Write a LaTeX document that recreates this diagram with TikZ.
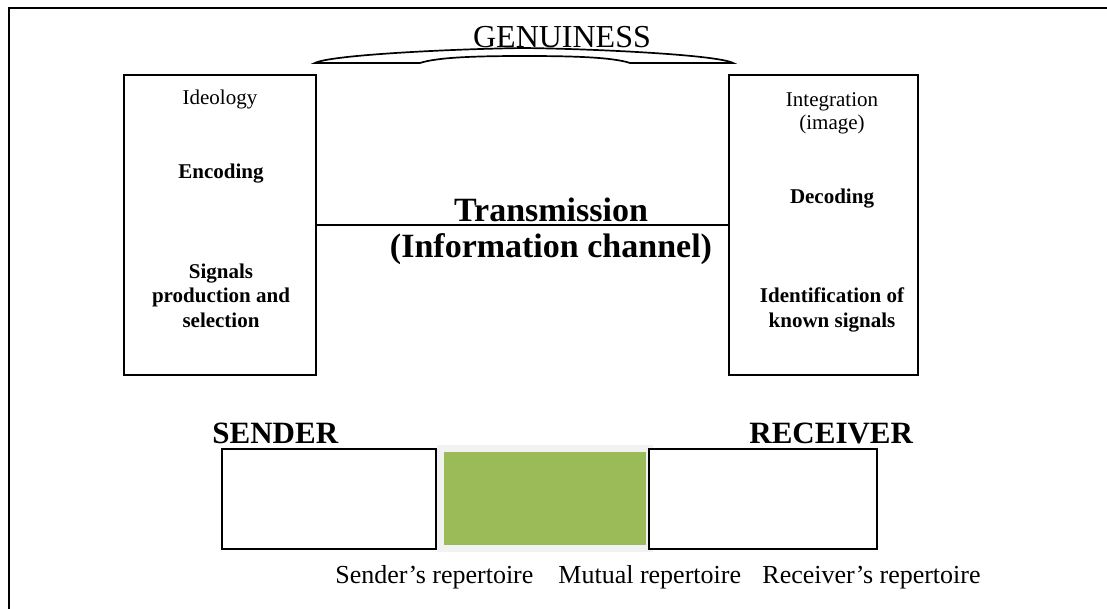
\documentclass[tikz,border=0pt]{standalone}
\usepackage{fontspec}
\setmainfont{Liberation Serif}
\usetikzlibrary{positioning}
\definecolor{mutualCol}{HTML}{9BBB59}
\definecolor{haloCol}{HTML}{F2F2F2}

\begin{document}
\begin{tikzpicture}[
    x=0.5pt, y=-0.5pt,
    % Node styles
    stagebox/.style={
        rectangle,
        draw=black,
        line width=0.75pt,
        minimum height=150pt,
        inner sep=0pt
    },
    repbox/.style={
        rectangle,
        draw=black,
        fill=white,
        line width=0.75pt,
        minimum height=50pt,
        inner sep=0pt
    },
    plain/.style={
        anchor=base,
        inner sep=0pt,
        align=center,
        font=\fontsize{10.5}{12.25}\selectfont
    },
    strong/.style={
        plain,
        font=\fontsize{10.5}{12.25}\selectfont\bfseries
    },
    title/.style={
        anchor=base,
        inner sep=0pt,
        font=\fontsize{15.5}{18}\selectfont\bfseries
    },
    caption/.style={
        anchor=base west,
        inner sep=0pt,
        font=\fontsize{13}{15}\selectfont
    }
]
    \useasboundingbox (0,0) rectangle (1107,609);

    % ==== FRAME ====
    \draw[line width=1pt] (9,609) -- (9,8) -- (1107,8);

    % ==== GENUINESS ====
    \draw[line width=0.85pt, fill=white]
        (315,63) .. controls (330,55) and (450,49) .. (524,48)
        .. controls (600,49) and (718,55) .. (733,63)
        -- (630,63) .. controls (612,57) and (570,56) .. (524,56)
        .. controls (480,56) and (438,57) .. (420,63) -- cycle;
    \node[anchor=base, inner sep=0pt, font=\fontsize{16}{18}\selectfont] (genuine) at (562,48) {GENUINESS};

    % ==== SENDER SIDE ====
    % (multi-line nodes sit on the baseline of their last line)
    \node[stagebox, minimum width=96pt] (sendbox) at (220,225) {};
    \node[plain] (ideology) at (220,105) {Ideology};
    \node[strong] (encoding) at (221,179) {Encoding};
    \node[strong] (signals) at (221,327) {Signals\\production and\\selection};

    % ==== RECEIVER SIDE ====
    \node[stagebox, minimum width=94.5pt] (recvbox) at (823.5,225) {};
    \node[plain, font=\fontsize{10.5}{11.5}\selectfont] (integration) at (832,130) {Integration\\(image)};
    \node[strong] (decoding) at (832,204) {Decoding};
    \node[strong] (identify) at (832,327) {Identification of\\known signals};

    % ==== TRANSMISSION ====
    \draw[line width=0.75pt] (sendbox) -- (recvbox);
    \node[anchor=base, inner sep=0pt, align=center, font=\fontsize{17}{18}\selectfont\bfseries] (channel) at (551,257) {Transmission\\(Information channel)};

    % ==== REPERTOIRES ====
    \node[title, anchor=base west] (sender) at (212,443) {SENDER};
    \node[title, anchor=base west] (receiver) at (749,443) {RECEIVER};

    \node[repbox, minimum width=107pt] (sendrep) at (329,499) {};
    \node[rectangle, draw=haloCol, fill=mutualCol, line width=3.6pt,
          minimum width=104.5pt, minimum height=49.75pt, inner sep=0pt] (mutualrep) at (545,498.5) {};
    \node[repbox, minimum width=114pt] (recvrep) at (763,499) {};

    \node[caption] (sendcap) at (335,583) {Sender’s repertoire};
    \node[caption] (mutualcap) at (558,583) {Mutual repertoire};
    \node[caption] (recvcap) at (762,583) {Receiver’s repertoire};

\end{tikzpicture}
\end{document}
